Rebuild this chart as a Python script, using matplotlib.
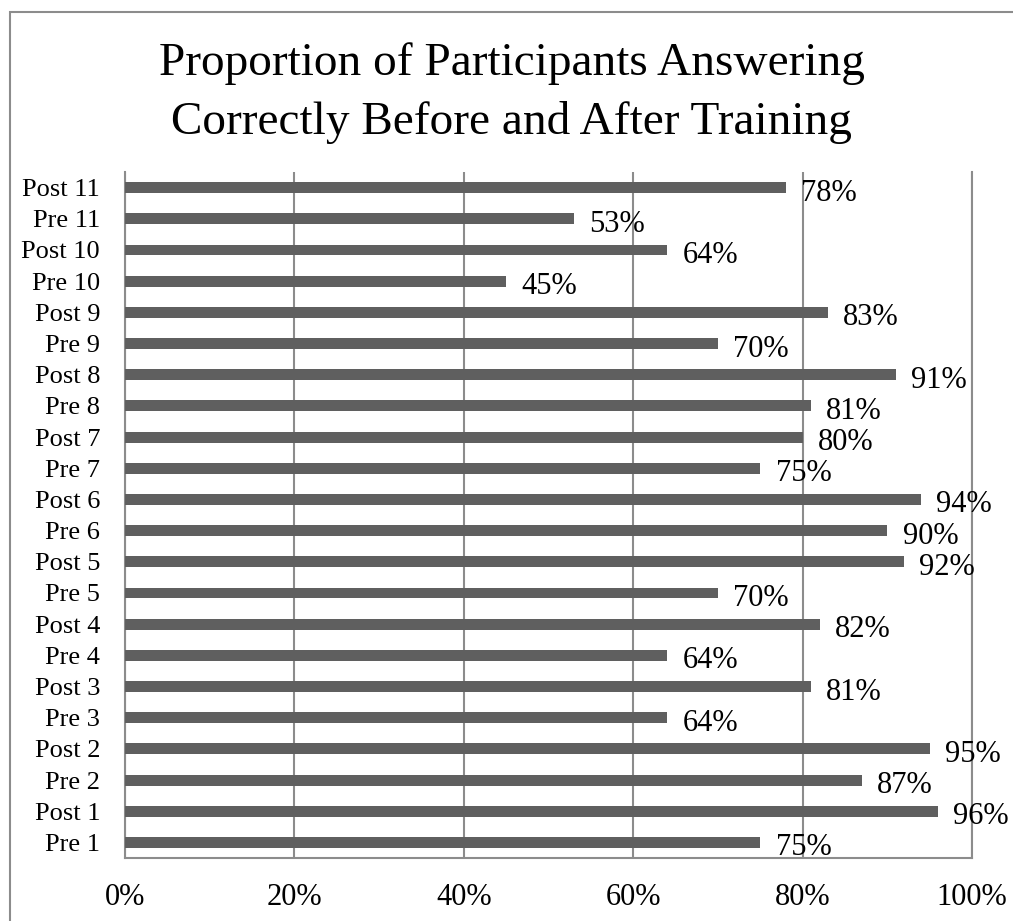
import matplotlib
matplotlib.use("Agg")
import matplotlib.pyplot as plt
from matplotlib.patches import Rectangle

plt.rcParams['font.family'] = ['Liberation Serif', 'DejaVu Serif']

# Данные
labels = ["Pre 1", "Post 1", "Pre 2", "Post 2", "Pre 3", "Post 3",
          "Pre 4", "Post 4", "Pre 5", "Post 5", "Pre 6", "Post 6",
          "Pre 7", "Post 7", "Pre 8", "Post 8", "Pre 9", "Post 9",
          "Pre 10", "Post 10", "Pre 11", "Post 11"]
values = [75, 96, 87, 95, 64, 81, 64, 82, 70, 92, 90, 94,
          75, 80, 81, 91, 70, 83, 45, 64, 53, 78]
x_ticks = [0, 20, 40, 60, 80, 100]
x_tick_labels = ["0%", "20%", "40%", "60%", "80%", "100%"]

fig = plt.figure(figsize=(10.13, 9.21), dpi=100)
ax = fig.add_axes([0.1234, 0.0684, 0.8361, 0.7448])

# Рамка вокруг графика
fig.patches.append(Rectangle((10 / 1013, -0.01), 1.02, 1 - 12 / 921 + 0.01,
                             transform=fig.transFigure, fill=False,
                             edgecolor="#8c8c8c", linewidth=1.5))

pos = list(range(len(labels)))
ax.barh(pos, values, height=0.35, color="#5f5f5f", zorder=3)

for p, v in zip(pos, values):
    ax.annotate(f"{v}%", xy=(v, p), xytext=(11, -4), textcoords="offset points",
                va="center", ha="left", fontsize=22, zorder=4)

ax.set_xlim(0, 100)
ax.set_ylim(-0.5, len(labels) - 0.5)
ax.set_xticks(x_ticks)
ax.set_xticklabels(x_tick_labels, fontsize=22)
ax.set_yticks(pos)
ax.set_yticklabels(labels, fontsize=19)
ax.tick_params(axis="both", length=0)
ax.tick_params(axis="x", pad=18)
ax.tick_params(axis="y", pad=18)
ax.grid(axis="x", color="#8c8c8c", linewidth=1.5, zorder=0)

ax.spines["top"].set_visible(False)
for side in ["left", "bottom", "right"]:
    ax.spines[side].set_color("#8c8c8c")
    ax.spines[side].set_linewidth(1.5)

fig.text(0.505, 0.899, "Proportion of Participants Answering\nCorrectly Before and After Training",
         ha="center", va="center", fontsize=34, linespacing=1.5)

fig.savefig("out.png", dpi=100)
